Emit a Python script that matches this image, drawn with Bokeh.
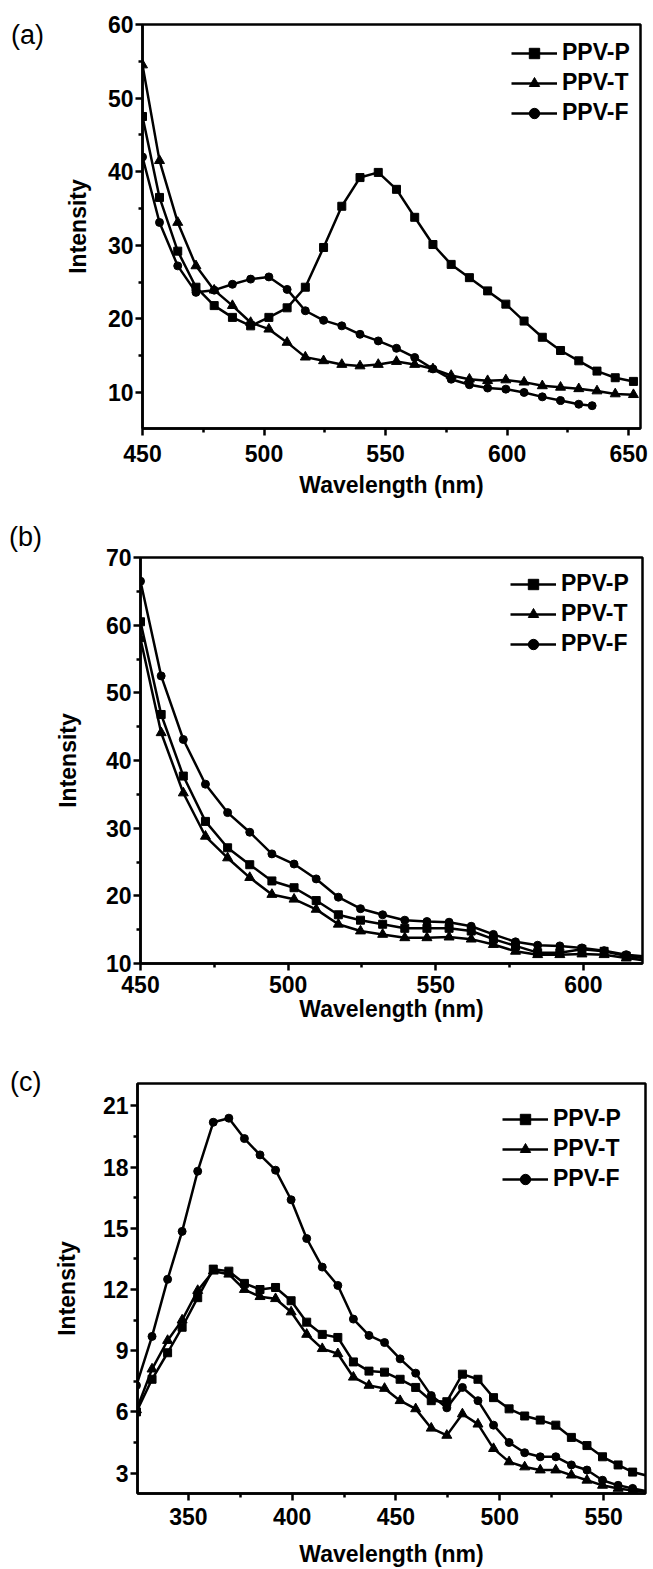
from bokeh.plotting import figure
from bokeh.models import Range1d, FixedTicker, Legend, LegendItem, Div
from bokeh.layouts import column, row
from bokeh.embed import file_html
from bokeh.resources import INLINE

# ---------------- data ----------------
# Panel (a)
wl_a = [450, 457, 464.5, 472, 479.5, 487, 494.5, 502, 509.5, 517, 524.5, 532, 539.5, 547,
        554.5, 562, 569.5, 577, 584.5, 592, 599.5, 607, 614.5, 622, 629.5, 637, 644.5, 652]
ppvp_a = [47.5, 36.5, 29.2, 24.3, 21.8, 20.2, 19.05, 20.2, 21.5, 24.3, 29.7, 35.3, 39.2, 39.9,
          37.6, 33.8, 30.1, 27.4, 25.6, 23.8, 22.0, 19.7, 17.5, 15.7, 14.3, 12.9, 12.0, 11.5]
ppvt_a = [54.5, 41.5, 33.1, 27.2, 23.9, 21.8, 19.5, 18.6, 16.8, 14.8, 14.3, 13.8, 13.6, 13.8,
          14.2, 13.8, 13.2, 12.3, 11.8, 11.6, 11.7, 11.4, 10.9, 10.7, 10.5, 10.2, 9.8, 9.7]
wl_a_f = [450, 457, 464.5, 472, 479.5, 487, 494.5, 502, 509.5, 517, 524.5, 532, 539.5, 547,
          554.5, 562, 569.5, 577, 584.5, 592, 599.5, 607, 614.5, 622, 629.5, 635]
ppvf_a = [42.0, 33.1, 27.2, 23.6, 23.9, 24.7, 25.4, 25.7, 24.0, 21.1, 19.8, 19.05, 17.9, 17.0,
          16.0, 14.75, 13.2, 11.8, 11.05, 10.6, 10.45, 10.0, 9.4, 8.9, 8.4, 8.2]

# Panel (b)
wl_b = [450, 457, 464.5, 472, 479.5, 487, 494.5, 502, 509.5, 517, 524.5, 532, 539.5, 547,
        554.5, 562, 569.5, 577, 584.5, 592, 599.5, 607, 614.5, 622]
ppvp_b = [60.5, 46.8, 37.7, 31.0, 27.1, 24.6, 22.2, 21.2, 19.3, 17.2, 16.4, 15.8, 15.2, 15.2,
          15.2, 14.8, 13.6, 12.6, 11.6, 11.6, 12.1, 11.8, 11.1, 10.7]
ppvt_b = [58.0, 44.1, 35.2, 28.8, 25.6, 22.7, 20.2, 19.5, 18.0, 15.8, 14.8, 14.3, 13.8, 13.8,
          13.9, 13.6, 12.8, 11.8, 11.3, 11.3, 11.4, 11.3, 10.8, 10.4]
ppvf_b = [66.5, 52.5, 43.1, 36.5, 32.3, 29.4, 26.2, 24.7, 22.5, 19.8, 18.1, 17.2, 16.4, 16.2,
          16.1, 15.5, 14.3, 13.2, 12.7, 12.6, 12.3, 11.9, 11.3, 11.0]

# Panel (c)
wl_c = [325, 332.5, 340, 347, 354.5, 362, 369.5, 377, 384.5, 392, 399.5, 407, 414.5, 422,
        429.5, 437, 444.5, 452, 459.5, 467, 474.5, 482, 489.5, 497, 504.5, 512, 519.5, 527,
        534.5, 542, 549.5, 557, 564, 574]
ppvp_c = [6.0, 7.6, 8.9, 10.15, 11.6, 13.0, 12.9, 12.3, 12.0, 12.1, 11.45, 10.4, 9.8, 9.65,
          8.45, 8.0, 7.95, 7.6, 7.2, 6.55, 6.5, 7.85, 7.6, 6.7, 6.15, 5.8, 5.6, 5.35,
          4.75, 4.35, 3.8, 3.4, 3.05, 2.8]
ppvt_c = [6.1, 8.1, 9.5, 10.5, 11.95, 12.9, 12.75, 12.0, 11.65, 11.55, 10.9, 9.8, 9.1, 8.85,
          7.7, 7.3, 7.15, 6.55, 6.15, 5.2, 4.85, 5.9, 5.4, 4.2, 3.55, 3.3, 3.15, 3.15,
          2.9, 2.65, 2.4, 2.25, 2.15, 2.05]
ppvf_c = [7.3, 9.7, 12.5, 14.85, 17.8, 20.2, 20.4, 19.4, 18.6, 17.85, 16.4, 14.5, 13.1, 12.2,
          10.55, 9.75, 9.4, 8.6, 7.9, 6.8, 6.2, 7.2, 6.55, 5.35, 4.5, 4.0, 3.8, 3.8,
          3.4, 3.15, 2.65, 2.4, 2.25, 2.05]

series_names = ["PPV-P", "PPV-T", "PPV-F"]
panel_tags = ["(a)", "(b)", "(c)"]

x_ticks_a = [450, 500, 550, 600, 650]
x_minor_a = [475, 525, 575, 625]
y_ticks_a = [10, 20, 30, 40, 50, 60]
y_minor_a = [15, 25, 35, 45, 55]

x_ticks_b = [450, 500, 550, 600]
x_minor_b = [475, 525, 575]
y_ticks_b = [10, 20, 30, 40, 50, 60, 70]
y_minor_b = [15, 25, 35, 45, 55, 65]

x_ticks_c = [350, 400, 450, 500, 550]
x_minor_c = [375, 425, 475, 525]
y_ticks_c = [3, 6, 9, 12, 15, 18, 21]
y_minor_c = [4.5, 7.5, 10.5, 13.5, 16.5, 19.5]

FONT = "Liberation Sans"
TAG_W = 50


def tag_div(tag, height, top, left):
    html = ('<div style="font-family: \'Liberation Sans\', Arial, sans-serif; font-size: 27px; '
            'line-height: 27px; color: black; padding-top: %dpx; padding-left: %dpx;">%s</div>'
            % (top, left, tag))
    return Div(text=html, width=TAG_W, height=height, margin=0)


def panel(height, left, right, top, bottom, xr, yr, xt, xm, yt, ym,
          series, legend_xy, ylab_standoff, xtick_standoff, xlab_standoff):
    p = figure(width=653 - TAG_W, height=height, output_backend="svg", toolbar_location=None,
               x_range=Range1d(*xr), y_range=Range1d(*yr),
               min_border_left=left - TAG_W, min_border_right=right,
               min_border_top=top, min_border_bottom=bottom, margin=0)
    p.xgrid.visible = False
    p.ygrid.visible = False
    p.outline_line_color = "black"
    p.outline_line_width = 2.5
    p.outline_line_alpha = 1
    p.background_fill_color = "white"
    p.border_fill_color = "white"

    p.xaxis.ticker = FixedTicker(ticks=xt, minor_ticks=xm)
    p.yaxis.ticker = FixedTicker(ticks=yt, minor_ticks=ym)
    for ax in (p.xaxis, p.yaxis):
        ax.axis_line_width = 2.5
        ax.axis_line_color = "black"
        ax.major_tick_line_width = 2.5
        ax.minor_tick_line_width = 2.5
        ax.major_tick_out = 7
        ax.major_tick_in = 0
        ax.minor_tick_out = 4
        ax.minor_tick_in = 0
        ax.major_label_text_font = FONT
        ax.major_label_text_font_style = "bold"
        ax.major_label_text_font_size = "23px"
        ax.major_label_text_color = "black"
        ax.axis_label_text_font = FONT
        ax.axis_label_text_font_style = "bold"
        ax.axis_label_text_font_size = "23px"
        ax.axis_label_text_color = "black"
    p.xaxis.axis_label = "Wavelength (nm)"
    p.yaxis.axis_label = "Intensity"
    p.yaxis.major_label_standoff = 2
    p.yaxis.axis_label_standoff = ylab_standoff
    p.xaxis.major_label_standoff = xtick_standoff
    p.xaxis.axis_label_standoff = xlab_standoff

    markers = ["square", "triangle", "circle"]
    msizes = [8, 10, 8]
    items = []
    for (xs, ys), name, mk, ms in zip(series, series_names, markers, msizes):
        lr = p.line(xs, ys, line_color="black", line_width=2.5)
        sr = p.scatter(xs, ys, marker=mk, size=ms, fill_color="black", line_color="black")
        items.append(LegendItem(label=name, renderers=[lr, sr]))

    leg = Legend(items=items, location=legend_xy, padding=0, margin=0, spacing=3,
                 glyph_width=46, glyph_height=26, label_height=26, label_standoff=5,
                 label_text_font=FONT, label_text_font_style="bold",
                 label_text_font_size="23px", label_text_color="black",
                 border_line_alpha=0, background_fill_alpha=0)
    p.add_layout(leg)
    return p


pa = panel(520, 142, 13, 24, 92, (450, 654.9), (5.1, 60),
           x_ticks_a, x_minor_a, y_ticks_a, y_minor_a,
           [(wl_a, ppvp_a), (wl_a, ppvt_a), (wl_a_f, ppvf_a)],
           (369, 302), 14, 9, 7)

pb = panel(520, 140, 11, 37, 77, (450, 620), (10, 70),
           x_ticks_b, x_minor_b, y_ticks_b, y_minor_b,
           [(wl_b, ppvp_b), (wl_b, ppvt_b), (wl_b, ppvf_b)],
           (370, 306), 22, 5, 0)

pc = panel(529, 136, 8, 43, 70, (325.5, 570.2), (2.0, 22.1),
           x_ticks_c, x_minor_c, y_ticks_c, y_minor_c,
           [(wl_c, ppvp_c), (wl_c, ppvt_c), (wl_c, ppvf_c)],
           (365, 301), 20, 7, 13)

layout = column(
    row(tag_div(panel_tags[0], 520, 22, 11), pa, spacing=0),
    row(tag_div(panel_tags[1], 520, 4, 9), pb, spacing=0),
    row(tag_div(panel_tags[2], 529, 29, 10), pc, spacing=0),
    spacing=0,
)
open("out.html", "w").write(file_html(layout, INLINE))
